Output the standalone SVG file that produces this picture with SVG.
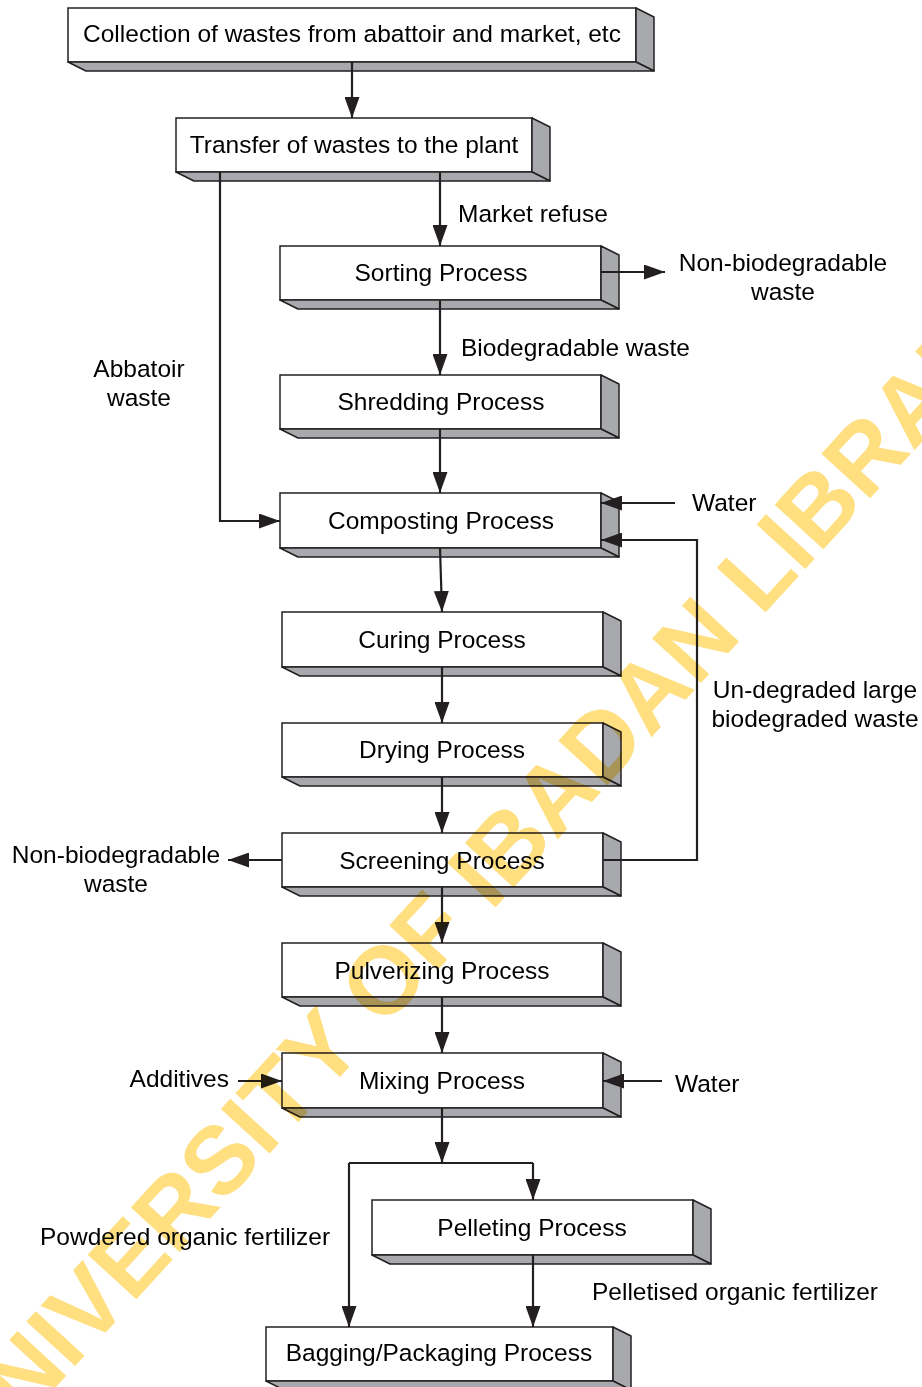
<svg xmlns="http://www.w3.org/2000/svg" width="922" height="1387" viewBox="0 0 922 1387">
<style>
.f{fill:#fff;stroke:#231f20;stroke-width:1.5}
.s{fill:#a7a9ac;stroke:#231f20;stroke-width:1.5;stroke-linejoin:round}
.t{font-family:"Liberation Sans",Arial,sans-serif;font-size:24.5px;fill:#000}
.m{text-anchor:middle}
.e{text-anchor:end}
.c{fill:none;stroke:#231f20;stroke-width:2.2}
.wm{font-family:"Liberation Sans",Arial,sans-serif;font-weight:bold;font-size:96px;fill:#FFDF80;mix-blend-mode:multiply}
</style>
<defs>
<marker id="ah" markerUnits="userSpaceOnUse" markerWidth="21" markerHeight="15" refX="21" refY="7.5" orient="auto">
<path d="M0,0 L21,7.5 L0,15 z" fill="#231f20"/>
</marker>
</defs>
<rect width="922" height="1387" fill="#fff"/>
<g id="n1"><rect class="f" x="68" y="8" width="568" height="54"/><polygon class="s" points="636,8 654,17 654,71 636,62"/><polygon class="s" points="68,62 636,62 654,71 86,71"/><text class="t m" x="352" y="42">Collection of wastes from abattoir and market, etc</text></g>
<g id="n2"><rect class="f" x="176" y="118" width="356" height="54"/><polygon class="s" points="532,118 550,127 550,181 532,172"/><polygon class="s" points="176,172 532,172 550,181 194,181"/><text class="t m" x="354" y="153">Transfer of wastes to the plant</text></g>
<g id="n3"><rect class="f" x="280" y="246" width="321" height="54"/><polygon class="s" points="601,246 619,255 619,309 601,300"/><polygon class="s" points="280,300 601,300 619,309 298,309"/><text class="t m" x="441" y="281">Sorting Process</text></g>
<g id="n4"><rect class="f" x="280" y="375" width="321" height="54"/><polygon class="s" points="601,375 619,384 619,438 601,429"/><polygon class="s" points="280,429 601,429 619,438 298,438"/><text class="t m" x="441" y="410">Shredding Process</text></g>
<g id="n5"><rect class="f" x="280" y="493" width="321" height="55"/><polygon class="s" points="601,493 619,502 619,557 601,548"/><polygon class="s" points="280,548 601,548 619,557 298,557"/><text class="t m" x="441" y="529">Composting Process</text></g>
<g id="n6"><rect class="f" x="282" y="612" width="321" height="55"/><polygon class="s" points="603,612 621,621 621,676 603,667"/><polygon class="s" points="282,667 603,667 621,676 300,676"/><text class="t m" x="442" y="648">Curing Process</text></g>
<g id="n7"><rect class="f" x="282" y="723" width="321" height="54"/><polygon class="s" points="603,723 621,732 621,786 603,777"/><polygon class="s" points="282,777 603,777 621,786 300,786"/><text class="t m" x="442" y="758">Drying Process</text></g>
<g id="n8"><rect class="f" x="282" y="833" width="321" height="54"/><polygon class="s" points="603,833 621,842 621,896 603,887"/><polygon class="s" points="282,887 603,887 621,896 300,896"/><text class="t m" x="442" y="869">Screening Process</text></g>
<g id="n9"><rect class="f" x="282" y="943" width="321" height="54"/><polygon class="s" points="603,943 621,952 621,1006 603,997"/><polygon class="s" points="282,997 603,997 621,1006 300,1006"/><text class="t m" x="442" y="979">Pulverizing Process</text></g>
<g id="n10"><rect class="f" x="282" y="1053" width="321" height="55"/><polygon class="s" points="603,1053 621,1062 621,1117 603,1108"/><polygon class="s" points="282,1108 603,1108 621,1117 300,1117"/><text class="t m" x="442" y="1089">Mixing Process</text></g>
<g id="n11"><rect class="f" x="372" y="1200" width="321" height="55"/><polygon class="s" points="693,1200 711,1209 711,1264 693,1255"/><polygon class="s" points="372,1255 693,1255 711,1264 390,1264"/><text class="t m" x="532" y="1236">Pelleting Process</text></g>
<g id="n12"><rect class="f" x="266" y="1327" width="347" height="54"/><polygon class="s" points="613,1327 631,1336 631,1390 613,1381"/><polygon class="s" points="266,1381 613,1381 631,1390 284,1390"/><text class="t m" x="439" y="1361">Bagging/Packaging Process</text></g>
<g id="connectors">
<path class="c" d="M352,62 V118" marker-end="url(#ah)"/>
<path class="c" d="M440,172 V246" marker-end="url(#ah)"/>
<path class="c" d="M601,272 H665" marker-end="url(#ah)"/>
<path class="c" d="M440,300 V375" marker-end="url(#ah)"/>
<path class="c" d="M440,429 V493" marker-end="url(#ah)"/>
<path class="c" d="M220,172 V521 H280" marker-end="url(#ah)"/>
<path class="c" d="M675,503 H601" marker-end="url(#ah)"/>
<path class="c" d="M603,860 H697 V540 H601" marker-end="url(#ah)"/>
<path class="c" d="M440,548 L442,612" marker-end="url(#ah)"/>
<path class="c" d="M442,667 V723" marker-end="url(#ah)"/>
<path class="c" d="M442,777 V833" marker-end="url(#ah)"/>
<path class="c" d="M282,860 H228" marker-end="url(#ah)"/>
<path class="c" d="M442,887 V943" marker-end="url(#ah)"/>
<path class="c" d="M442,997 V1053" marker-end="url(#ah)"/>
<path class="c" d="M238,1081 H282" marker-end="url(#ah)"/>
<path class="c" d="M662,1081 H603" marker-end="url(#ah)"/>
<path class="c" d="M442,1108 V1163" marker-end="url(#ah)"/>
<path class="c" d="M349,1163 H533"/>
<path class="c" d="M533,1163 V1200" marker-end="url(#ah)"/>
<path class="c" d="M349,1163 V1327" marker-end="url(#ah)"/>
<path class="c" d="M533,1255 V1327" marker-end="url(#ah)"/>
</g>
<g id="labels">
<text class="t" x="458" y="222">Market refuse</text>
<text class="t m" x="783" y="271">Non-biodegradable</text>
<text class="t m" x="783" y="300">waste</text>
<text class="t" x="461" y="356">Biodegradable waste</text>
<text class="t m" x="139" y="377">Abbatoir</text>
<text class="t m" x="139" y="406">waste</text>
<text class="t" x="692" y="511">Water</text>
<text class="t m" x="815" y="698">Un-degraded large</text>
<text class="t m" x="815" y="727">biodegraded waste</text>
<text class="t m" x="116" y="863">Non-biodegradable</text>
<text class="t m" x="116" y="892">waste</text>
<text class="t e" x="229" y="1087">Additives</text>
<text class="t" x="675" y="1092">Water</text>
<text class="t" x="40" y="1245">Powdered organic fertilizer</text>
<text class="t" x="592" y="1300">Pelletised organic fertilizer</text>
</g>
<text class="wm" transform="translate(-23,1473) rotate(-47.5)">UNIVERSITY OF IBADAN LIBRARY</text>
</svg>
